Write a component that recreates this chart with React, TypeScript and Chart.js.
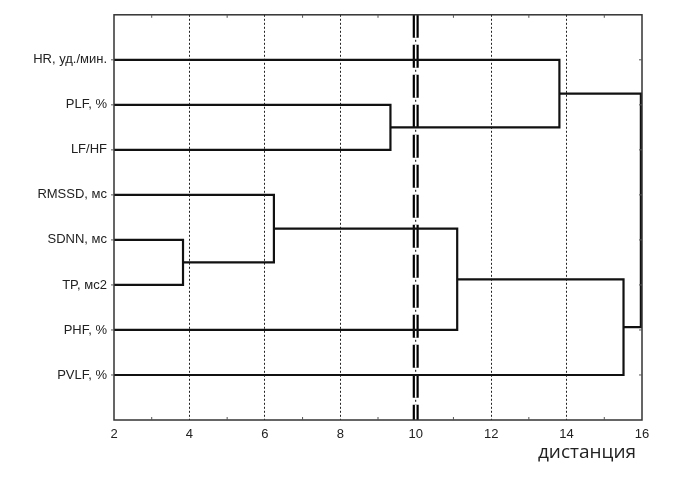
import React, { useEffect, useRef } from "react";
import { Chart, registerables } from "chart.js";

Chart.register(...registerables);

// Leaves (top to bottom)
const leafLabels = [
  "HR, уд./мин.",
  "PLF, %",
  "LF/HF",
  "RMSSD, мс",
  "SDNN, мс",
  "TP, мс2",
  "PHF, %",
  "PVLF, %",
];
// Merges: node ids 0..7 are leaves, 8.. are merges in order
const mergeLeft = [4, 3, 1, 0, 9, 12, 11];
const mergeRight = [5, 8, 2, 10, 6, 7, 13];
const mergeDistance = [3.83, 6.24, 9.33, 13.81, 11.1, 15.51, 15.97];
const xTicks = [2, 4, 6, 8, 10, 12, 14, 16];
const minorXTicks = [3, 5, 7, 9, 11, 13, 15];
const thresholdValue = 10;
const axisTitle = "дистанция";

const X_MIN = 2;
const X_MAX = 16;

function buildDatasets() {
  const nodeX: number[] = leafLabels.map(() => X_MIN);
  const nodeY: number[] = leafLabels.map((_, i) => i);
  const sets: any[] = [];
  mergeDistance.forEach((d, k) => {
    const l = mergeLeft[k];
    const r = mergeRight[k];
    const pts = [
      { x: nodeX[l], y: nodeY[l] },
      { x: d, y: nodeY[l] },
      { x: d, y: nodeY[r] },
      { x: nodeX[r], y: nodeY[r] },
    ];
    nodeX.push(d);
    nodeY.push((nodeY[l] + nodeY[r]) / 2);
    sets.push({
      data: pts,
      showLine: true,
      borderColor: "#111",
      borderWidth: 2.2,
      pointRadius: 0,
      fill: false,
      tension: 0,
      borderJoinStyle: "miter",
    });
  });
  return sets;
}

const FONT = "'Liberation Sans', Arial, sans-serif";

const decorPlugin = {
  id: "decor",
  beforeDatasetsDraw(chart: any) {
    const { ctx, chartArea, scales } = chart;
    const px = scales.x.getPixelForValue(thresholdValue);
    ctx.save();
    ctx.lineCap = "butt";
    ctx.setLineDash([23, 7]);
    ctx.strokeStyle = "#000";
    ctx.lineWidth = 6;
    ctx.beginPath();
    ctx.moveTo(px, chartArea.top);
    ctx.lineTo(px, chartArea.bottom);
    ctx.stroke();
    ctx.strokeStyle = "#fff";
    ctx.lineWidth = 1.6;
    ctx.beginPath();
    ctx.moveTo(px, chartArea.top);
    ctx.lineTo(px, chartArea.bottom);
    ctx.stroke();
    ctx.setLineDash([2, 28]);
    ctx.lineDashOffset = -25;
    ctx.strokeStyle = "#000";
    ctx.lineWidth = 1;
    ctx.beginPath();
    ctx.moveTo(px, chartArea.top);
    ctx.lineTo(px, chartArea.bottom);
    ctx.stroke();
    ctx.restore();
  },
  afterDraw(chart: any) {
    const { ctx, chartArea, scales } = chart;
    ctx.save();
    ctx.strokeStyle = "#333";
    ctx.lineWidth = 1.5;
    ctx.strokeRect(
      chartArea.left,
      chartArea.top,
      chartArea.right - chartArea.left,
      chartArea.bottom - chartArea.top
    );
    ctx.lineWidth = 1;
    ctx.strokeStyle = "#555";
    ctx.beginPath();
    minorXTicks.forEach((v) => {
      const x = scales.x.getPixelForValue(v);
      ctx.moveTo(x, chartArea.top);
      ctx.lineTo(x, chartArea.top + 3);
      ctx.moveTo(x, chartArea.bottom);
      ctx.lineTo(x, chartArea.bottom - 3);
    });
    leafLabels.forEach((_, i) => {
      const y = scales.y.getPixelForValue(i);
      ctx.moveTo(chartArea.right, y);
      ctx.lineTo(chartArea.right - 3, y);
      ctx.moveTo(chartArea.left, y);
      ctx.lineTo(chartArea.left - 3, y);
    });
    ctx.stroke();
    ctx.fillStyle = "#222";
    ctx.font = "19px 'Open Sans', sans-serif";
    ctx.textAlign = "right";
    ctx.textBaseline = "alphabetic";
    ctx.fillText(axisTitle, chartArea.right - 6, 458);
    ctx.restore();
  },
};

export default function App() {
  const ref = useRef<HTMLCanvasElement | null>(null);
  useEffect(() => {
    if (!ref.current) return;
    const chart = new Chart(ref.current, {
      type: "scatter",
      data: { datasets: buildDatasets() },
      plugins: [decorPlugin],
      options: {
        animation: false,
        responsive: false,
        devicePixelRatio: 1,
        layout: { padding: { left: 0, right: 31, top: 10, bottom: 0 } },
        plugins: {
          legend: { display: false },
          tooltip: { enabled: false },
        },
        scales: {
          x: {
            type: "linear",
            min: X_MIN,
            max: X_MAX,
            afterBuildTicks: (s: any) => {
              s.ticks = xTicks.map((v) => ({ value: v }));
            },
            afterFit: (s: any) => {
              s.height = 57;
            },
            ticks: {
              font: { family: FONT, size: 13 },
              color: "#222",
              padding: 7,
              autoSkip: false,
              maxRotation: 0,
            },
            grid: {
              drawTicks: false,
              lineWidth: 1,
              color: (c: any) => {
                const v = c.tick ? c.tick.value : null;
                return v === X_MIN || v === X_MAX || v === thresholdValue
                  ? "rgba(0,0,0,0)"
                  : "#222";
              },
            },
            border: { display: false, dash: [2, 2] },
          },
          y: {
            type: "linear",
            min: -1,
            max: 8,
            reverse: true,
            afterBuildTicks: (s: any) => {
              s.ticks = leafLabels.map((_, i) => ({ value: i }));
            },
            afterFit: (s: any) => {
              s.width = 114;
            },
            ticks: {
              font: { family: FONT, size: 13 },
              color: "#222",
              padding: 7,
              autoSkip: false,
              callback: (v: any) => leafLabels[v] ?? "",
            },
            grid: { display: false, drawTicks: false },
            border: { display: false },
          },
        },
      },
    });
    return () => chart.destroy();
  }, []);
  return (
    <div style={{ position: "absolute", left: 0, top: 0, width: 673, height: 477, background: "#fff" }}>
      <canvas ref={ref} width={673} height={477} style={{ display: "block" }} />
    </div>
  );
}
